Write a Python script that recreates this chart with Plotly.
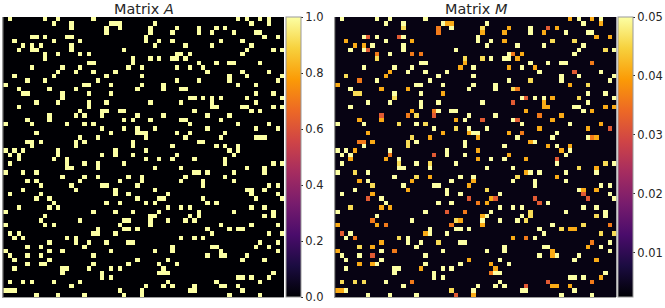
import plotly.graph_objects as go

SIZE = 64
# column indexes of the non-zero entries of A, one list per row
A_ROWS = [
 [1,9,12,20,53,55,58,60],[11,15,24,25,26,34,56,60],[15,23,26,33,39,44,48,50],[23,33,38,44,47,52,57,58],
 [6,7,9,14,15,32,59,62],[2,11,17,32,35,38,49,54],[4,6,8,15,34,41,47,56],[3,6,7,15,27,55,61,63],
 [9,12,17,19,39,40,42,54],[9,29,33,35,38,39,41],[19,20,29,44,48,51,52,58],[6,13,17,28,31,39,42,45],
 [12,16,20,25,46,54,60],[2,11,23,31,51,55,63],[5,9,21,39,44,51,62],[0,18,19,24,31,36,53,57],
 [3,10,16,30,36,40,41],[4,5,13,19,24,57,61],[13,42,43,45,47,49,55,63],[7,12,19,23,33,40,47,57],
 [3,19,47,48,54,55,61,63],[17,22,23,26,27,43,56,58],[10,16,18,22,30,36,46,51],[5,10,27,29,33,40,41,49],
 [0,6,14,18,20,42,53,60],[22,27,30,34,46,57,62],[7,24,30,31,32,39,42,50],[17,21,32,41,49,57,58,59],
 [5,6,8,16,18,29,44,45],[6,16,29,38,48,50,53],[0,2,4,12,25,32,51,53],[1,3,12,22,25,29,39,52],
 [3,11,14,32,35,38,43,50],[1,14,18,21,27,50,61,63],[14,15,21,34,40,55,59],[0,4,7,43,44,46,52,59],
 [13,18,21,28,31,41,50],[5,7,17,26,31,40,45,52],[8,15,22,23,30,45,60,62],[4,16,25,34,55,56,59],
 [1,8,25,28,37,56,62],[7,10,30,35,36,45,57,63],[11,23,26,32,34,46,48],[3,10,12,37,40,42,56,59],
 [0,20,25,29,35,44,52,61],[9,33,34,42,44,59,61],[8,17,27,28,33,37,41,43],[0,9,11,26,33,49,56,62],
 [21,27,28,30,46,51,53,54],[1,3,20,21,25,47,60,63],[2,4,14,16,40,43,45],[10,16,19,23,28,29,58,62],
 [5,8,18,38,47,48,57,60],[0,10,13,24,34,38,49,62],[1,5,8,20,46,49,50,55],[2,10,30,37,54,59],
 [5,8,9,20,28,35,39],[2,13,14,19,24,26,36],[13,22,35,36,37,61],[22,24,53,54,56,60],
 [1,4,6,11,17,37,48,58],[15,32,36,38,43,49,50,53],[0,1,2,26,31,42,43,54],[7,12,18,27,31,51,58],
]
M_BACKGROUND = 0.0038
M_TOP = 0.05
M_GOLD_VALUE = 0.046
M_GOLD = [(2,15),(2,33),(9,9),(9,29),(9,33),(13,2),(14,44),(16,40),(17,4),(17,5),(18,13),(5,54),(5,49),(7,61),
 (18,55),(22,18),(24,14),(24,20),(25,27),(27,17),(28,16),(15,57),(29,16),(33,14),(33,21),(35,4),(36,18),(38,8),
 (39,34),(43,3),(46,27),(50,14),(51,23),(52,5),(60,1),(60,4),(60,6),(62,26),(36,41),(33,61),(34,55),(44,44),
 (45,44),(45,59),(48,51),(49,60),(49,63),(47,56),(46,43)]
M_ORANGE_VALUE = 0.041
M_ORANGE = [(1,25),(1,26),(3,33),(5,2),(5,17),(6,4),(6,6),(10,29),(11,28),(12,12),(13,11),(15,0),(16,10),(16,16),
 (17,24),(21,17),(23,5),(23,10),(23,27),(26,7),(26,24),(26,30),(27,21),(27,32),(28,8),(30,32),(0,53),(0,58),(1,60),
 (2,39),(2,50),(3,38),(3,47),(4,59),(4,62),(5,38),(8,42),(9,41),(11,39),(11,45),(15,53),(18,49),(19,47),(20,47),
 (20,48),(20,61),(20,63),(21,43),(21,58),(22,51),(23,49),(24,60),(25,46),(25,57),(26,39),(27,59),(28,44),(29,48),
 (29,53),(30,51),(31,39),(30,4),(32,3),(32,11),(32,32),(36,21),(37,5),(37,17),(37,31),(38,30),(39,16),(40,8),(41,35),
 (42,34),(43,10),(43,12),(45,33),(46,28),(47,0),(47,9),(47,33),(49,20),(51,10),(52,8),(53,0),(55,30),(56,5),(56,8),
 (56,35),(57,19),(57,36),(62,0),(62,1),(63,31),(32,43),(34,59),(35,43),(36,50),(39,56),(39,59),(48,53),(48,54),
 (50,40),(52,57),(53,49),(54,49),(55,59),(61,49),(61,50),(61,53),(59,60)]
M_DEEP_VALUE = 0.036
M_DEEP = [(2,23),(3,23),(8,17),(8,9),(8,19),(14,5),(21,22),(22,16),(28,5),(28,6),(10,58),(16,41),(8,40),(22,46),
 (26,42),(27,58),(31,12),(42,32),(44,29),(46,8),(47,11),(47,26),(50,4),(53,13),(58,35),(60,17),(47,62),(50,43),
 (51,58),(60,58)]
M_RED_VALUE = 0.032
M_RED = [(4,7),(4,14),(7,7),(22,10),(22,22),(23,33),(2,48),(12,54),(18,43),(19,40),(23,41),(25,62),(31,22),(32,50),
 (41,7),(41,30),(41,36),(44,25),(49,1),(54,8),(63,27),(40,56),(41,45),(41,57),(42,46),(60,48),(61,43)]

TITLE_A = "Matrix <i>A</i>"
TITLE_M = "Matrix <i>M</i>"
A_TICKS = [0.0, 0.2, 0.4, 0.6, 0.8, 1.0]
A_TICK_TEXT = ["0.0", "0.2", "0.4", "0.6", "0.8", "1.0"]
M_TICKS = [0.01, 0.02, 0.03, 0.04, 0.05]
M_TICK_TEXT = ["0.01", "0.02", "0.03", "0.04", "0.05"]
M_LOW = 0.0025

A = [[0.0] * SIZE for _ in range(SIZE)]
M = [[M_BACKGROUND] * SIZE for _ in range(SIZE)]
for r, cols in enumerate(A_ROWS):
    for c in cols:
        A[r][c] = 1.0
        M[r][c] = M_TOP
for cells, value in ((M_GOLD, M_GOLD_VALUE), (M_ORANGE, M_ORANGE_VALUE), (M_DEEP, M_DEEP_VALUE), (M_RED, M_RED_VALUE)):
    for r, c in cells:
        M[r][c] = value

W, H = 665, 308
FONT = "DejaVu Sans"
INK = "#262626"
GREY = "#9a9a9a"

def colorbar(left, vals, text):
    return dict(x=left / W, xanchor="left", xpad=0, y=(H - 297) / H, yanchor="bottom", ypad=0,
                lenmode="pixels", len=280, thicknessmode="pixels", thickness=14.5,
                outlinecolor=GREY, outlinewidth=1, tickmode="array", tickvals=vals, ticktext=text,
                ticks="outside", ticklen=2, tickcolor=INK, tickwidth=1,
                tickfont=dict(family=FONT, size=11.5, color=INK))

fig = go.Figure()
fig.add_trace(go.Heatmap(z=A, colorscale="Inferno", zmin=0, zmax=1, xaxis="x", yaxis="y",
                         colorbar=colorbar(286, A_TICKS, A_TICK_TEXT), hoverinfo="skip"))
fig.add_trace(go.Heatmap(z=M, colorscale="Inferno", zmin=M_LOW, zmax=M_TOP, xaxis="x2", yaxis="y2",
                         colorbar=colorbar(617.5, M_TICKS, M_TICK_TEXT), hoverinfo="skip"))

def xax(a, b, anchor):
    return dict(domain=[a / W, b / W], anchor=anchor, range=[-0.5, SIZE - 0.5], showgrid=False, zeroline=False,
                showticklabels=False, ticks="", showline=True, linecolor=GREY, linewidth=1)

def yax(anchor):
    return dict(domain=[(H - 297) / H, (H - 17) / H], anchor=anchor, range=[SIZE - 0.5, -0.5], showgrid=False,
                zeroline=False, showticklabels=False, ticks="", showline=True, linecolor=GREY, linewidth=1)

fig.update_layout(
    width=W, height=H, margin=dict(l=0, r=0, t=0, b=0), autosize=False,
    paper_bgcolor="white", plot_bgcolor="black",
    xaxis=xax(3.4, 284, "y"), yaxis=yax("x"), xaxis2=xax(335.3, 616.3, "y2"), yaxis2=yax("x2"),
    annotations=[
        dict(text=TITLE_A, x=143.5 / W, y=(H - 9) / H, xref="paper", yref="paper", xanchor="center", yanchor="middle",
             showarrow=False, font=dict(family=FONT, size=14.4, color=INK)),
        dict(text=TITLE_M, x=476.5 / W, y=(H - 9) / H, xref="paper", yref="paper", xanchor="center", yanchor="middle",
             showarrow=False, font=dict(family=FONT, size=14.4, color=INK)),
    ],
)
fig.write_html("out.html", config=dict(displayModeBar=False),
               post_script="document.body.style.margin='0';document.documentElement.style.overflow='hidden';")
